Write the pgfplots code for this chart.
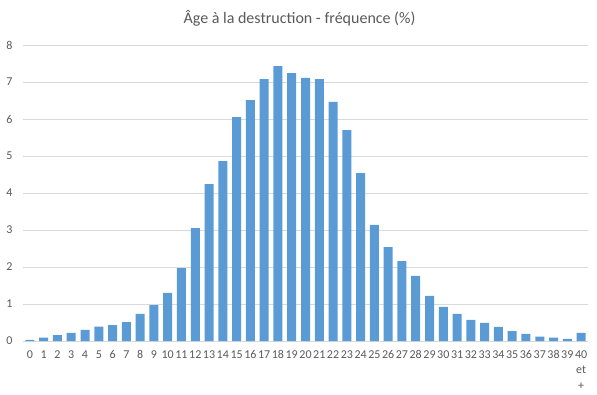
\documentclass[border=0pt]{standalone}
\usepackage{pgfplots}
\pgfplotsset{compat=1.18}
\usepackage{fontspec}
\setmainfont{Carlito}
\definecolor{barblue}{HTML}{5B9BD5}
\definecolor{gridgray}{HTML}{D9D9D9}
\definecolor{txtgray}{HTML}{595959}
\begin{document}
\begin{tikzpicture}
\path[use as bounding box] (0pt,0pt) rectangle (597pt,394pt);
\begin{axis}[at={(23pt,53pt)}, anchor=south west, scale only axis,
  width=565pt, height=296pt,
  xmin=-0.5, xmax=40.5, ymin=0, ymax=8,
  xtick={0,...,40}, ytick={0,...,8},
  xticklabels={0,1,2,3,4,5,6,7,8,9,10,11,12,13,14,15,16,17,18,19,20,21,22,23,24,25,26,27,28,29,30,31,32,33,34,35,36,37,38,39,{40\\et\\+}},
  ymajorgrids, grid style={gridgray, line width=0.75pt},
  axis x line*=bottom, axis y line*=left,
  x axis line style={gridgray, line width=0.75pt, -},
  y axis line style={draw=none},
  major tick length=0pt,
  /pgf/number format/assume math mode=true,
  tick label style={font=\fontsize{12}{15.5}\selectfont, text=txtgray},
  xticklabel style={align=center, anchor=north, yshift=-6pt},
  yticklabel style={anchor=east, xshift=-7pt},
  title={Âge à la destruction - fréquence (\%)},
  title style={font=\fontsize{16}{19}\selectfont, text=txtgray, anchor=center, at={(0.5,1)}, yshift=21pt, xshift=-6pt},
]
\addplot[ybar, bar width=9pt, fill=barblue, draw=none] coordinates {
(0,0.03) (1,0.09) (2,0.16) (3,0.22) (4,0.30) (5,0.39) (6,0.43) (7,0.51) (8,0.73) (9,0.97)
(10,1.30) (11,1.97) (12,3.05) (13,4.24) (14,4.86) (15,6.05) (16,6.51) (17,7.08) (18,7.43) (19,7.24)
(20,7.11) (21,7.08) (22,6.46) (23,5.70) (24,4.54) (25,3.14) (26,2.54) (27,2.16) (28,1.76) (29,1.22)
(30,0.92) (31,0.73) (32,0.57) (33,0.49) (34,0.38) (35,0.27) (36,0.19) (37,0.12) (38,0.09) (39,0.06)
(40,0.22)
};
\end{axis}
\end{tikzpicture}
\end{document}
